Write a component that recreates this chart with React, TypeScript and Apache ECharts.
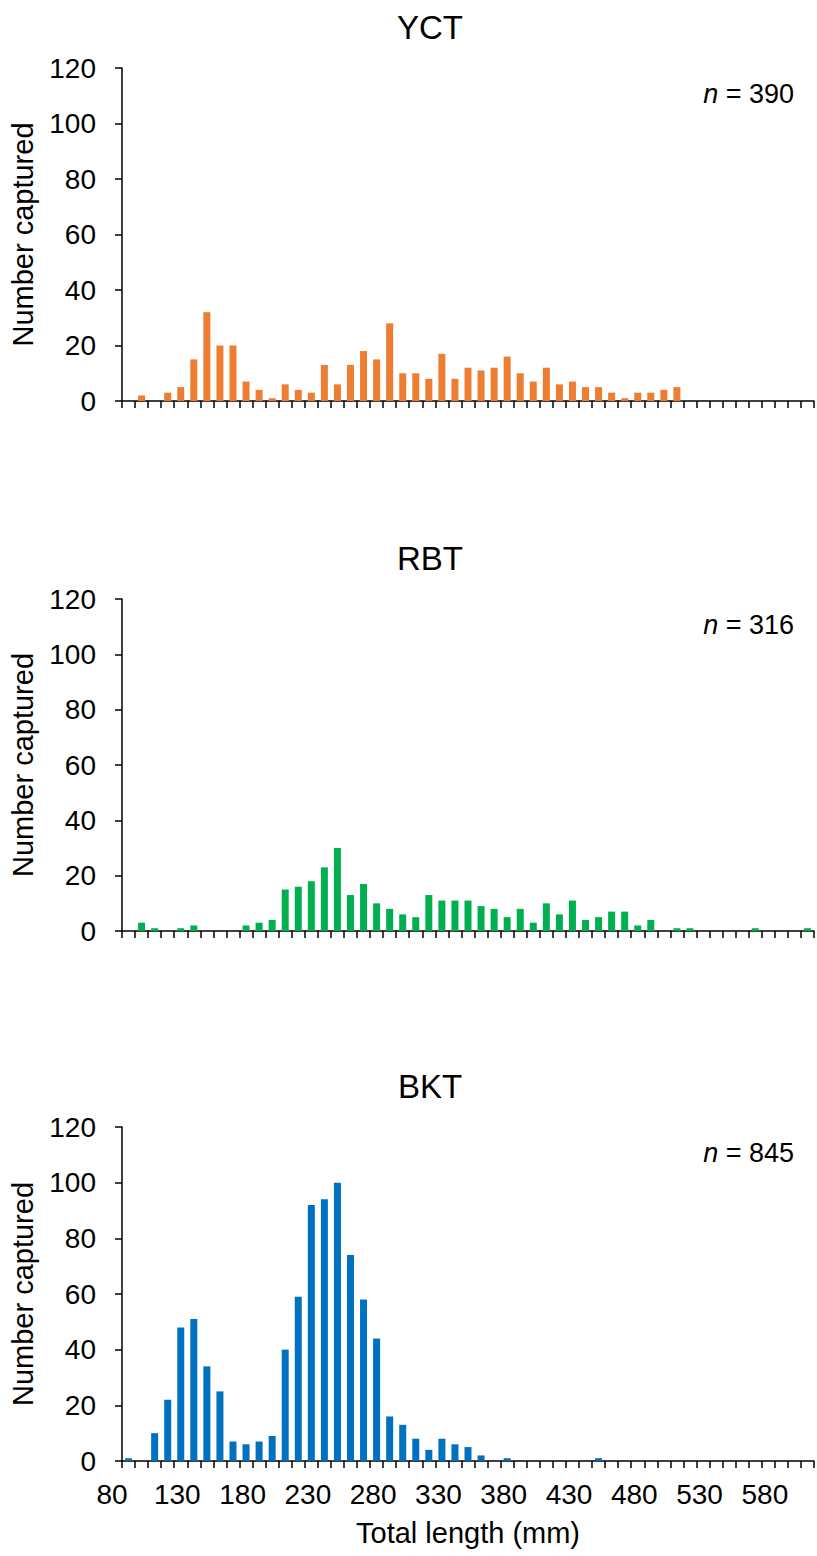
import React, { useEffect, useRef } from 'react';
import * as echarts from 'echarts';

const categories = [
  '80', '90', '100', '110', '120', '130', '140', '150', '160', '170',
  '180', '190', '200', '210', '220', '230', '240', '250', '260', '270',
  '280', '290', '300', '310', '320', '330', '340', '350', '360', '370',
  '380', '390', '400', '410', '420', '430', '440', '450', '460', '470',
  '480', '490', '500', '510', '520', '530', '540', '550', '560', '570',
  '580', '590', '600',
];

const yctCounts = [
  0, 2, 0, 3, 5, 15, 32, 20, 20, 7,
  4, 1, 6, 4, 3, 13, 6, 13, 18, 15,
  28, 10, 10, 8, 17, 8, 12, 11, 12, 16,
  10, 7, 12, 6, 7, 5, 5, 3, 1, 3,
  3, 4, 5, 0, 0, 0, 0, 0, 0, 0,
  0, 0, 0,
];

const rbtCounts = [
  0, 3, 1, 0, 1, 2, 0, 0, 0, 2,
  3, 4, 15, 16, 18, 23, 30, 13, 17, 10,
  8, 6, 5, 13, 11, 11, 11, 9, 8, 5,
  8, 3, 10, 6, 11, 4, 5, 7, 7, 2,
  4, 0, 1, 1, 0, 0, 0, 0, 1, 0,
  0, 0, 1,
];

const bktCounts = [
  1, 0, 10, 22, 48, 51, 34, 25, 7, 6,
  7, 9, 40, 59, 92, 94, 100, 74, 58, 44,
  16, 13, 8, 4, 8, 6, 5, 2, 0, 1,
  0, 0, 0, 0, 0, 0, 1, 0, 0, 0,
  0, 0, 0, 0, 0, 0, 0, 0, 0, 0,
  0, 0, 0,
];

const panelTitles = ['YCT', 'RBT', 'BKT'];
const sampleSizes = ['390', '316', '845'];
const yAxisName = 'Number captured';
const xAxisName = 'Total length (mm)';

export default function App() {
  const ref = useRef<HTMLDivElement>(null);

  useEffect(() => {
    const chart = echarts.init(ref.current as HTMLDivElement, null, { renderer: 'svg' });
    const font = "'Liberation Sans', Arial, sans-serif";
    const black = '#000000';
    const panels = [
      { top: 68, height: 333, left: 122, color: '#ED7D31' },
      { top: 599, height: 332, left: 122, color: '#00B050' },
      { top: 1127, height: 334, left: 121, color: '#0070C0' },
    ];
    const seriesData = [yctCounts, rbtCounts, bktCounts];

    const grid = panels.map((p) => ({
      left: p.left,
      width: 814 - p.left,
      top: p.top,
      height: p.height,
      containLabel: false,
    }));

    const xAxis = panels.map((p, i) => ({
      type: 'category',
      gridIndex: i,
      data: categories,
      boundaryGap: true,
      axisLine: { show: true, lineStyle: { color: black, width: 1.5 } },
      axisTick: { show: true, interval: 0, length: 7, inside: false, lineStyle: { color: black, width: 1.5 } },
      axisLabel: {
        show: i === 2,
        interval: 4,
        margin: 19,
        fontSize: 28,
        color: black,
        fontFamily: font,
        padding: [0, 33, 0, 0],
      },
      splitLine: { show: false },
      name: i === 2 ? xAxisName : '',
      nameLocation: 'middle',
      nameGap: 57,
      nameTextStyle: { fontSize: 29, color: black, fontFamily: font },
    }));

    const yAxis = panels.map((p, i) => ({
      type: 'value',
      gridIndex: i,
      min: 0,
      max: 120,
      interval: 20,
      axisLine: { show: true, lineStyle: { color: black, width: 1.5 } },
      axisTick: { show: true, length: 7, lineStyle: { color: black, width: 1.5 } },
      axisLabel: { margin: 26, fontSize: 28, color: black, fontFamily: font },
      splitLine: { show: false },
      name: yAxisName,
      nameLocation: 'middle',
      nameRotate: 90,
      nameGap: 85,
      nameTextStyle: { fontSize: 29, color: black, fontFamily: font },
    }));

    const series = panels.map((p, i) => ({
      type: 'bar',
      xAxisIndex: i,
      yAxisIndex: i,
      data: seriesData[i],
      barWidth: 7,
      itemStyle: { color: p.color },
      silent: true,
    }));

    const graphic: any[] = [];
    panels.forEach((p, i) => {
      graphic.push({
        type: 'text',
        x: 430,
        y: p.top - 41,
        style: {
          text: panelTitles[i],
          fontSize: 33,
          fontFamily: font,
          fill: black,
          textAlign: 'center',
          textVerticalAlign: 'middle',
        },
      });
      graphic.push({
        type: 'text',
        x: 794,
        y: p.top + 26,
        style: {
          text: '{i|n} = ' + sampleSizes[i],
          fontSize: 27,
          fontFamily: font,
          fill: black,
          textAlign: 'right',
          textVerticalAlign: 'middle',
          rich: {
            i: { fontStyle: 'italic', fontSize: 27, fontFamily: font, fill: black },
          },
        },
      });
    });

    chart.setOption({
      animation: false,
      backgroundColor: '#ffffff',
      grid,
      xAxis,
      yAxis,
      series,
      graphic,
    } as any);

    return () => {
      chart.dispose();
    };
  }, []);

  return (
    <div
      ref={ref}
      style={{ position: 'absolute', left: 0, top: 0, width: 817, height: 1556, background: '#ffffff' }}
    />
  );
}
